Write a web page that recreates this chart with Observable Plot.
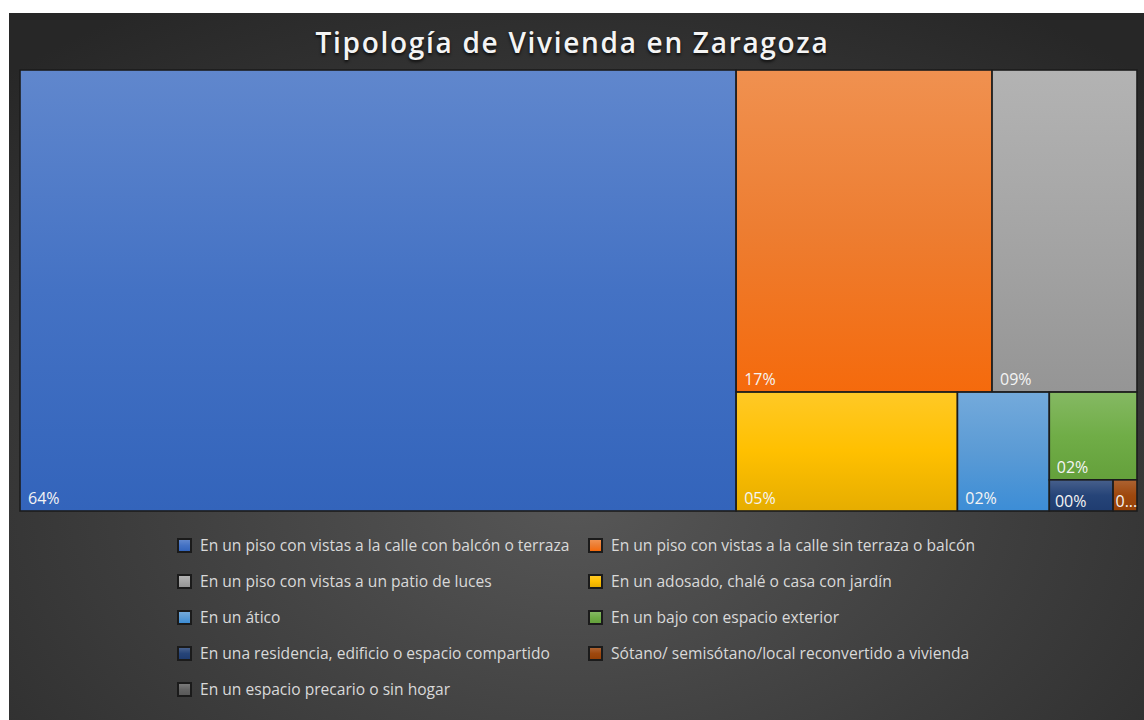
<!DOCTYPE html>
<html>
<head>
<meta charset="utf-8">
<script src="https://cdn.jsdelivr.net/npm/d3@7"></script>
<script src="https://cdn.jsdelivr.net/npm/@observablehq/plot@0.6"></script>
<style>
  html, body { margin: 0; padding: 0; background: #ffffff; }
  #card {
    position: absolute; left: 9px; top: 13px; width: 1135px; height: 707px;
    background: radial-gradient(ellipse 75% 80% at 50% 68%, #575757 0%, #3c3c3c 55%, #272727 100%);
    font-family: "Open Sans", "Noto Sans", sans-serif;
    overflow: hidden;
  }
  #title {
    position: absolute; left: -4px; width: 100%; top: 15px; height: 28px; line-height: 28px;
    text-align: center; color: #f4f4f4; font-size: 28px; font-weight: 600; letter-spacing: 1.7px;
    text-shadow: 0 2px 3px rgba(0,0,0,0.75);
  }
  #plot { position: absolute; left: 9px; top: 55px; }
  .item { position: absolute; height: 20px; display: flex; align-items: center; }
  .sw { width: 11px; height: 11px; border: 2px solid #1b1b1b; box-sizing: content-box; }
  .lab { color: #d9d9d9; font-size: 15.6px; white-space: nowrap; margin-left: 8px; }
</style>
</head>
<body>
<div id="card">
  <div id="title">Tipología de Vivienda en Zaragoza</div>
  <div id="plot"></div>
  <div id="legend"></div>
</div>
<script>
// ---- data ----
const categories = [
  "En un piso con vistas a la calle con balcón o terraza",
  "En un piso con vistas a la calle sin terraza o balcón",
  "En un piso con vistas a un patio de luces",
  "En un adosado, chalé o casa con jardín",
  "En un ático",
  "En un bajo con espacio exterior",
  "En una residencia, edificio o espacio compartido",
  "Sótano/ semisótano/local reconvertido a vivienda",
  "En un espacio precario o sin hogar"
];
const values = [63.6, 16.6, 9.4, 5.3, 2.2, 1.55, 0.4, 0.15, 0];
const baseColors = ["#4472C4", "#ED7D31", "#A5A5A5", "#FFC000", "#5B9BD5", "#70AD47", "#264478", "#9E480E", "#636363"];

// ---- gradient helpers ----
function topColor(c) { return d3.interpolateRgb(c, "#ffffff")(0.15); }
function bottomColor(c) {
  const h = d3.hsl(c);
  h.l = h.l * 0.9; h.s = Math.min(1, h.s * 1.1);
  return h.formatHex();
}

// ---- treemap layout ----
const W = 1117, H = 441;
const rows = categories.map((name, i) => ({name, value: values[i], idx: i}));
const root = d3.hierarchy({children: rows})
  .sum(d => d.value || 0)
  .sort((a, b) => b.value - a.value);
d3.treemap().tile(d3.treemapSquarify.ratio(1.3)).size([W, H])(root);
const leaves = root.leaves().filter(d => d.value > 0);

function labelOf(d) {
  const s = d3.format("02d")(Math.round(d.data.value)) + "%";
  return (d.x1 - d.x0) < 30 ? s[0] + "..." : s;
}

const chart = Plot.plot({
  width: W + 4,
  height: H + 4,
  margin: 2,
  x: {domain: [0, W], axis: null},
  y: {domain: [0, H], reverse: true, axis: null},
  color: {domain: categories, range: categories.map((c, i) => `url(#grad${i})`)},
  style: {background: "transparent", overflow: "visible"},
  marks: [
    Plot.rect(leaves, {
      x1: d => d.x0, x2: d => d.x1, y1: d => d.y0, y2: d => d.y1,
      fill: d => d.data.name,
      stroke: "#1c1c1c", strokeWidth: 1.6
    }),
    Plot.text(leaves, {
      x: d => d.x0 + Math.min(7.5, (d.x1 - d.x0) * 0.08),
      y: d => d.y1 - Math.min(7.5, (d.y1 - d.y0) * 0.15),
      text: labelOf,
      textAnchor: "start",
      lineAnchor: "bottom",
      fill: "#f4f4f4",
      fontSize: 16,
      fontFamily: "'Open Sans', 'Noto Sans', sans-serif"
    })
  ]
});

// gradient defs
const defs = d3.select(chart).insert("defs", ":first-child");
baseColors.forEach((c, i) => {
  const g = defs.append("linearGradient").attr("id", "grad" + i)
    .attr("x1", 0).attr("y1", 0).attr("x2", 0).attr("y2", 1);
  g.append("stop").attr("offset", "0%").attr("stop-color", topColor(c));
  g.append("stop").attr("offset", "50%").attr("stop-color", c);
  g.append("stop").attr("offset", "100%").attr("stop-color", bottomColor(c));
});
document.getElementById("plot").appendChild(chart);

// ---- legend ----
const colLeft = [168, 579];
const rowTop = [522, 558, 594, 630, 666];
const legend = d3.select("#legend");
categories.forEach((name, i) => {
  const c = baseColors[i];
  const item = legend.append("div").attr("class", "item")
    .style("left", colLeft[i % 2] + "px")
    .style("top", rowTop[Math.floor(i / 2)] + "px");
  item.append("div").attr("class", "sw")
    .style("background", `linear-gradient(to bottom, ${topColor(c)}, ${c} 50%, ${bottomColor(c)})`);
  item.append("span").attr("class", "lab").text(name);
});
</script>
</body>
</html>
